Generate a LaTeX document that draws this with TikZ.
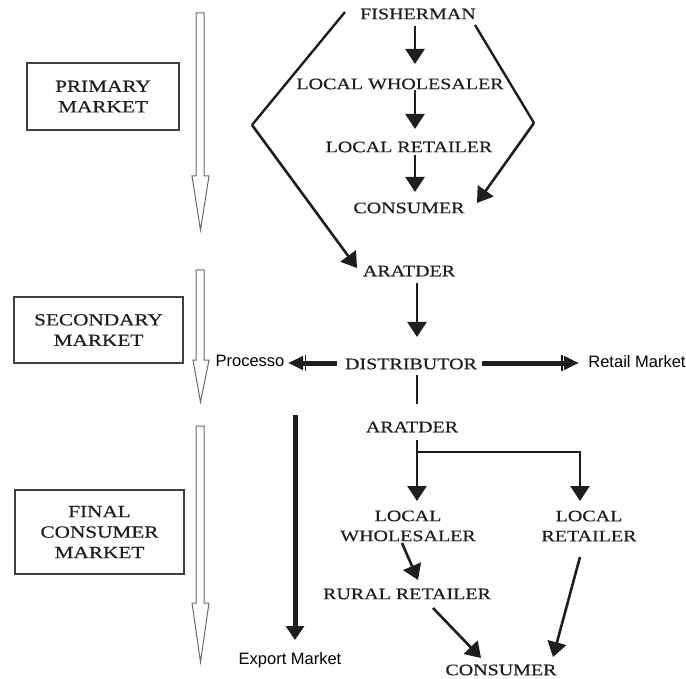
\documentclass[tikz,border=0pt]{standalone}
\usepackage{fontspec}
\usetikzlibrary{arrows.meta,calc}
\newfontfamily\lblfont{Liberation Serif}[FakeStretch=1.25,FakeBold=0.4]
\newfontfamily\smallsans{Liberation Sans}
\definecolor{ink}{HTML}{1E1E1E}
\definecolor{hollowgray}{HTML}{6A6A6A}
\tikzset{
  lbl/.style={font=\lblfont\fontsize{16}{20}\selectfont, text=ink, inner sep=0pt, align=center},
  boxlbl/.style={font=\lblfont\fontsize{17}{20.5}\selectfont, text=ink, inner sep=0pt, align=center},
  slbl/.style={font=\smallsans\fontsize{16.5}{18}\selectfont, text=black, inner sep=0pt},
  marketbox/.style={draw=ink!85, line width=1.8pt, fill=white},
  arr/.style={draw=ink, line width=2.6pt, -{Triangle[length=15pt,width=19pt]}},
  plain/.style={draw=ink, line width=2.4pt},
  barrow/.style={draw=ink, line width=5pt, -{Bar[width=16pt,line width=1.4pt,sep=1.5pt]Triangle[length=15pt,width=13pt]}},
  exparrow/.style={draw=ink, line width=5pt, -{Triangle[length=14pt,width=18pt]}},
  hollow/.style={draw=hollowgray, line width=1pt, fill=white}
}
\begin{document}
\begin{tikzpicture}[x=1pt,y=-1pt]
\useasboundingbox (0,0) rectangle (686,679);
% hollow level arrows
\draw[hollow] (196,15) -- (196,13) -- (204,13) -- (204,176) -- (209,176) -- (200.5,230) -- (192,176) -- (196,176) -- cycle;
\draw[hollow] (196,272) -- (196,270) -- (204,270) -- (204,360) -- (209,360) -- (200.5,402) -- (193,360) -- (196,360) -- cycle;
\draw[hollow] (196,428) -- (196,426) -- (204,426) -- (204,603) -- (209,603) -- (200.5,662) -- (192,603) -- (196,603) -- cycle;
% market boxes
\node[marketbox, boxlbl, minimum width=152pt, minimum height=67pt] (prim) at (103,96.5) {PRIMARY\\MARKET};
\node[marketbox, boxlbl, minimum width=169pt, minimum height=66pt] (sec) at (98.5,330) {SECONDARY\\MARKET};
\node[marketbox, boxlbl, minimum width=169pt, minimum height=84pt] (fin) at (99.5,532) {FINAL\\CONSUMER\\MARKET};
% chain nodes
\node[lbl] (fish) at (418,14) {FISHERMAN};
\node[lbl] (lw1) at (400,84) {LOCAL WHOLESALER};
\node[lbl] (lr1) at (409,147) {LOCAL RETAILER};
\node[lbl] (con1) at (409,208) {CONSUMER};
\node[lbl] (ar1) at (409,271) {ARATDER};
\node[lbl] (dist) at (411,364) {DISTRIBUTOR};
\node[slbl] (proc) at (250,361) {Processo};
\node[slbl] (retail) at (637,362) {Retail Market};
\node[lbl] (ar2) at (412,427) {ARATDER};
\node[lbl] (lw2) at (408,526) {LOCAL\\WHOLESALER};
\node[lbl] (lr2) at (589,526) {LOCAL\\RETAILER};
\node[lbl] (rr) at (407,594) {RURAL RETAILER};
\node[lbl] (con2) at (501,670) {CONSUMER};
\node[slbl] (exp) at (290,660) {Export Market};
% helper coordinates
\coordinate (lb) at (252,125);
\coordinate (rb) at (534,123);
\coordinate (expstart) at (295,415);
% connectors, primary
\draw[arr] ($(fish)+(-3,12)$) -- ($(lw1)+(15,-20)$);
\draw[arr] ($(lw1)+(15,6)$) -- ($(lr1)+(6,-18)$);
\draw[arr] ($(lr1)+(6,8)$) -- ($(con1)+(6,-16)$);
\draw[plain] ($(fish)+(-73,-2)$) -- (lb);
\draw[arr] (lb) -- ($(ar1)+(-52,-3)$);
\draw[plain] ($(fish)+(57,11)$) -- (rb);
\draw[arr] (rb) -- ($(con1)+(68,-5)$);
% secondary
\draw[arr] ($(ar1)+(8,12)$) -- ($(dist)+(6,-27)$);
\draw[barrow] ($(dist)+(-74,-1)$) -- ($(proc)+(38,2)$);
\draw[barrow] ($(dist)+(71,-1)$) -- ($(retail)+(-58,1)$);
\draw[plain] ($(dist)+(6,11)$) -- ($(ar2)+(5,-23)$);
% final
\coordinate (junc) at ($(ar2)+(5,25)$);
\draw[plain] ($(ar2)+(5,13)$) -- (junc);
\draw[arr] (junc) -- ($(lw2)+(9,-25)$);
\draw[arr] (junc) -| ($(lr2)+(-9,-25)$);
\draw[arr] ($(lw2)+(-6,17)$) -- ($(rr)+(11,-14)$);
\draw[arr] ($(rr)+(26,14)$) -- ($(con2)+(-20,-12)$);
\draw[arr] ($(lr2)+(-9,31)$) -- ($(con2)+(52,-13)$);
\draw[exparrow] (expstart) -- ($(exp)+(5,-20)$);
\end{tikzpicture}
\end{document}
